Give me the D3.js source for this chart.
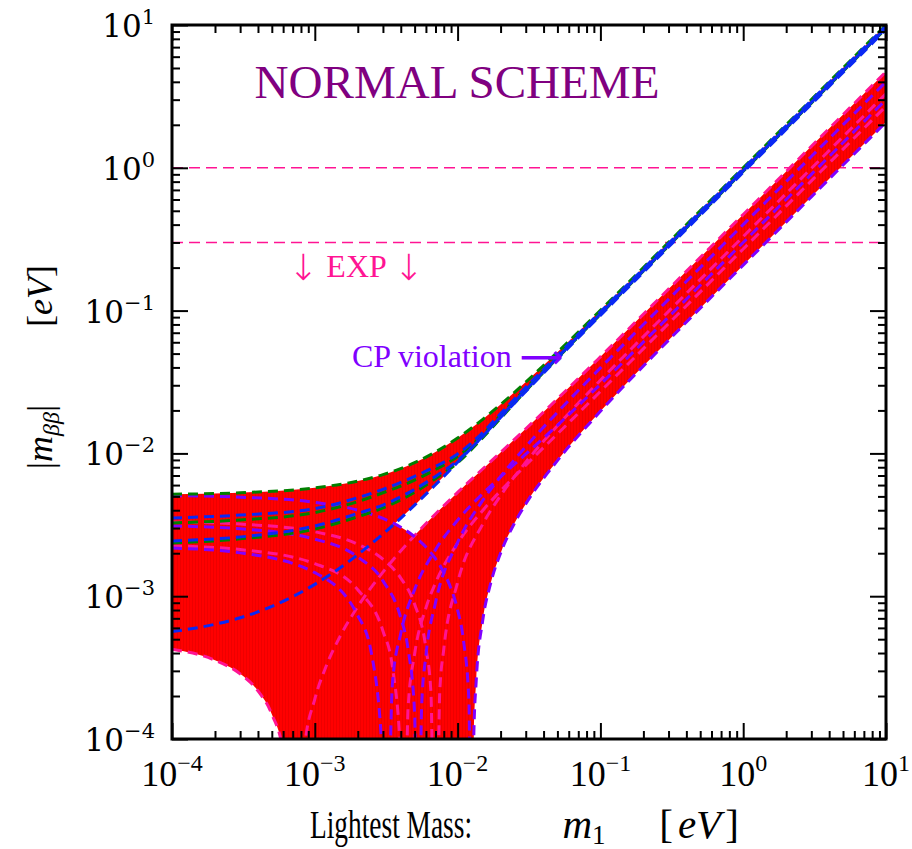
<!DOCTYPE html>
<html>
<head>
<meta charset="utf-8">
<script src="https://cdn.jsdelivr.net/npm/d3@7"></script>
<style>
  body { margin: 0; background: #fff; }
  svg { display: block; }
</style>
</head>
<body>
<svg id="chart" width="912" height="849"></svg>
<script>
// ---------- axis ticks ----------
const xMajor = [1e-4, 1e-3, 1e-2, 1e-1, 1, 10];
const xExp   = ["\u22124", "\u22123", "\u22122", "\u22121", "0", "1"];
const yMajor = [1e-4, 1e-3, 1e-2, 1e-1, 1, 10];
const yExp   = ["\u22124", "\u22123", "\u22122", "\u22121", "0", "1"];

// experimental bounds on |m_bb| (horizontal dashed lines)
const expBounds = [1.0, 0.3];

// ---------- curves: [m1, |m_bb|] in eV ----------
// upper family (green / blue), converging to |m_bb| ~ m1
const green1 = [[1e-4,5.18e-3],[3e-4,5.30e-3],[1e-3,5.74e-3],[2e-3,6.40e-3],[3e-3,7.10e-3],[5e-3,8.61e-3],[7e-3,1.023e-2],[1e-2,1.28e-2],[1.5e-2,1.732e-2],[2e-2,2.20e-2],[3e-2,3.157e-2],[5e-2,5.11e-2],[0.1,0.1006],[0.3,0.3002],[1,1.0],[3,3.0],[10,10]];
const green2 = [[1e-4,3.26e-3],[3e-4,3.42e-3],[1e-3,3.85e-3],[2e-3,4.6e-3],[3e-3,5.3e-3],[5e-3,6.5e-3],[7e-3,7.7e-3],[1e-2,9.5e-3],[1.5e-2,1.35e-2],[2e-2,1.85e-2],[3e-2,2.85e-2],[5e-2,4.8e-2],[0.1,0.097],[0.3,0.292],[1,0.975],[3,2.93],[10,9.75]];
const green3 = [[1e-4,2.36e-3],[3e-4,2.52e-3],[1e-3,2.95e-3],[2e-3,3.6e-3],[3e-3,4.15e-3],[5e-3,5.35e-3],[7e-3,6.65e-3],[1e-2,8.6e-3],[1.5e-2,1.29e-2],[2e-2,1.76e-2],[3e-2,2.74e-2],[5e-2,4.65e-2],[0.1,0.094],[0.3,0.284],[1,0.945],[3,2.84],[10,9.45]];
const blue1  = [[1e-4,3.53e-3],[3e-4,3.7e-3],[1e-3,4.1e-3],[2e-3,4.9e-3],[3e-3,5.6e-3],[5e-3,6.9e-3],[7e-3,8.1e-3],[1e-2,9.9e-3],[1.5e-2,1.4e-2],[2e-2,1.9e-2],[3e-2,2.9e-2],[5e-2,4.85e-2],[0.1,0.098],[0.3,0.295],[1,0.985],[3,2.96],[10,9.85]];
const blue2  = [[1e-4,2.44e-3],[3e-4,2.6e-3],[1e-3,3.1e-3],[2e-3,3.8e-3],[3e-3,4.35e-3],[5e-3,5.6e-3],[7e-3,6.9e-3],[1e-2,8.9e-3],[1.5e-2,1.32e-2],[2e-2,1.8e-2],[3e-2,2.78e-2],[5e-2,4.7e-2],[0.1,0.095],[0.3,0.287],[1,0.955],[3,2.87],[10,9.55]];
const blue3  = [[1e-4,5.65e-4],[2e-4,6.36e-4],[3e-4,7.06e-4],[5e-4,8.49e-4],[7e-4,9.93e-4],[1e-3,1.21e-3],[2e-3,1.954e-3],[3e-3,2.726e-3],[5e-3,4.341e-3],[7e-3,6.034e-3],[1e-2,8.67e-3],[2e-2,1.784e-2],[5e-2,4.59e-2],[0.1,0.0926],[0.3,0.2786],[1,0.929],[3,2.787],[10,9.29]];

// lower family (purple / pink): each curve falls to zero and rises again
const purpleA_left  = [[1e-4,5.058e-3],[3e-4,4.939e-3],[1e-3,4.538e-3],[2e-3,4.002e-3],[3e-3,3.503e-3],[4e-3,3.04e-3],[5e-3,2.61e-3],[6e-3,2.207e-3],[7e-3,1.83e-3],[8e-3,1.469e-3],[9e-3,1.128e-3],[1e-2,8.03e-4],[1.1e-2,4.88e-4],[1.2e-2,1.85e-4],[1.26e-2,0]];
const purpleA_right = [[1.26e-2,0],[1.3e-2,1.1e-4],[1.35e-2,2.54e-4],[1.5e-2,6.77e-4],[1.7e-2,1.22e-3],[2e-2,2.002e-3],[2.5e-2,3.239e-3],[3e-2,4.428e-3],[5e-2,8.902e-3],[0.1,0.0197],[0.3,0.062],[1,0.208],[3,0.626],[10,2.09]];
const purpleB_left  = [[1e-4,3.1e-3],[3e-4,2.966e-3],[1e-3,2.509e-3],[2e-3,1.882e-3],[3e-3,1.281e-3],[4e-3,7.05e-4],[4.5e-3,4.26e-4],[5e-3,1.51e-4],[5.28e-3,0]];
const purpleB_right = [[5.28e-3,0],[5.6e-3,1.72e-4],[6e-3,3.85e-4],[7e-3,9.0e-4],[1e-2,2.378e-3],[1.5e-2,4.683e-3],[2e-2,6.882e-3],[3e-2,1.1135e-2],[5e-2,1.9406e-2],[0.1,0.03968],[0.3,0.1199],[1,0.4],[3,1.2],[10,4.0]];
const purpleC_left  = [[1e-4,2.174e-3],[3e-4,2.011e-3],[1e-3,1.462e-3],[2e-3,7.32e-4],[2.5e-3,3.91e-4],[3e-3,6.4e-5],[3.1e-3,0]];
const purpleC_right = [[3.1e-3,0],[3.5e-3,2.49e-4],[4e-3,5.49e-4],[5e-3,1.113e-3],[7e-3,2.116e-3],[1e-2,3.407e-3],[1.5e-2,5.226e-3],[2e-2,6.848e-3],[3e-2,9.871e-3],[5e-2,1.5726e-2],[0.1,0.03044],[0.3,0.0902],[1,0.3],[3,0.9],[10,3.0]];
const pinkA_left    = [[1e-4,3.309e-3],[3e-4,3.2e-3],[1e-3,2.827e-3],[2e-3,2.311e-3],[3e-3,1.816e-3],[4e-3,1.339e-3],[5e-3,8.79e-4],[6e-3,4.32e-4],[6.5e-3,2.14e-4],[7e-3,0]];
const pinkA_right   = [[7e-3,0],[7.5e-3,2.15e-4],[8e-3,4.25e-4],[1e-2,1.246e-3],[1.5e-2,3.197e-3],[2e-2,5.063e-3],[3e-2,8.665e-3],[5e-2,1.5624e-2],[0.1,0.03251],[0.3,0.0988],[1,0.33],[3,0.99],[10,3.3]];
const pinkB_left    = [[1e-4,2.25e-3],[3e-4,2.122e-3],[1e-3,1.689e-3],[2e-3,1.109e-3],[3e-3,5.71e-4],[3.5e-3,3.17e-4],[4e-3,7.1e-5],[4.15e-3,0]];
const pinkB_right   = [[4.15e-3,0],[4.5e-3,1.65e-4],[5e-3,3.94e-4],[6e-3,8.29e-4],[7e-3,1.238e-3],[1e-2,2.355e-3],[1.5e-2,3.983e-3],[2e-2,5.468e-3],[3e-2,8.269e-3],[5e-2,1.3687e-2],[0.1,0.02713],[0.3,0.0811],[1,0.27],[3,0.81],[10,2.7]];
const pinkC_left    = [[1e-4,4.25e-4],[2e-4,3.56e-4],[3e-4,2.86e-4],[4e-4,2.17e-4],[5e-4,1.49e-4],[6e-4,8.05e-5],[7.2e-4,0]];
const pinkC_right   = [[7.2e-4,0],[8.5e-4,8.9e-5],[1e-3,1.9e-4],[1.2e-3,3.23e-4],[1.5e-3,5.21e-4],[2e-3,8.46e-4],[3e-3,1.474e-3],[5e-3,2.659e-3],[7e-3,3.766e-3],[1e-2,5.33e-3],[2e-2,1.0165e-2],[5e-2,2.41e-2],[0.1,0.04743],[0.3,0.1414],[1,0.471],[3,1.413],[10,4.71]];

// ---------- colours ----------
const RED = "#ff0000", PINK = "#ff1493", PURPLE = "#8000ff", GREEN = "#008000", BLUE = "#0a28f5", TITLE = "#800080";

// ---------- layout ----------
const W = 912, H = 849;
const plot = { left: 172, top: 25, right: 886, bottom: 739 };
const FLOOR = 1e-7;   // zero values are drawn at this level (off the bottom of the log axis)

const svg = d3.select("#chart");
const x = d3.scaleLog().domain([1e-4, 10]).range([plot.left, plot.right]);
const y = d3.scaleLog().domain([1e-4, 10]).range([plot.bottom, plot.top]);

const yv = v => y(Math.max(v, FLOOR));
const line = d3.line().x(d => x(d[0])).y(d => yv(d[1])).curve(d3.curveMonotoneX);
const below = d3.area().x(d => x(d[0])).y0(H + 400).y1(d => yv(d[1])).curve(d3.curveMonotoneX);

const defs = svg.append("defs");
defs.append("clipPath").attr("id", "plotClip")
  .append("rect").attr("x", plot.left).attr("y", plot.top)
  .attr("width", plot.right - plot.left).attr("height", plot.bottom - plot.top);

// hatched red fill (dense vertical strokes)
const pat = defs.append("pattern").attr("id", "redFill").attr("patternUnits", "userSpaceOnUse")
  .attr("width", 3).attr("height", 8);
pat.append("rect").attr("width", 3).attr("height", 8).attr("fill", RED);
pat.append("rect").attr("width", 1).attr("height", 8).attr("fill", "#ee0000");

// masks cutting away everything below a lower boundary curve
function makeMask(id, lower) {
  const m = defs.append("mask").attr("id", id).attr("maskUnits", "userSpaceOnUse")
    .attr("x", -100).attr("y", -100).attr("width", W + 200).attr("height", H + 800);
  m.append("rect").attr("x", -100).attr("y", -100).attr("width", W + 200).attr("height", H + 800).attr("fill", "white");
  m.append("path").attr("d", below(lower)).attr("fill", "black");
}
makeMask("cutBlue3", blue3);
makeMask("cutPinkC", pinkC_left);
makeMask("cutPurpleA", purpleA_right);

const g = svg.append("g").attr("clip-path", "url(#plotClip)");

// experimental bounds
g.selectAll("line.exp").data(expBounds).join("line").attr("class", "exp")
  .attr("x1", plot.left).attr("x2", plot.right)
  .attr("y1", d => y(d)).attr("y2", d => y(d))
  .attr("stroke", PINK).attr("stroke-width", 1.6).attr("stroke-dasharray", "11,6");

// allowed regions
g.append("path").attr("d", below(green1)).attr("fill", "url(#redFill)").attr("mask", "url(#cutBlue3)");
g.append("path").attr("d", below(purpleA_left)).attr("fill", "url(#redFill)").attr("mask", "url(#cutPinkC)");
g.append("path").attr("d", below(pinkC_right)).attr("fill", "url(#redFill)").attr("mask", "url(#cutPurpleA)");

// dashed curves
const curves = [
  { d: pinkC_left, c: PINK }, { d: pinkC_right, c: PINK },
  { d: pinkB_left, c: PINK }, { d: pinkB_right, c: PINK },
  { d: pinkA_left, c: PINK }, { d: pinkA_right, c: PINK },
  { d: purpleC_left, c: PURPLE }, { d: purpleC_right, c: PURPLE },
  { d: purpleB_left, c: PURPLE }, { d: purpleB_right, c: PURPLE },
  { d: purpleA_left, c: PURPLE }, { d: purpleA_right, c: PURPLE },
  { d: green3, c: GREEN }, { d: green2, c: GREEN }, { d: green1, c: GREEN },
  { d: blue3, c: BLUE }, { d: blue2, c: BLUE }, { d: blue1, c: BLUE }
];
g.selectAll("path.curve").data(curves).join("path").attr("class", "curve")
  .attr("d", d => line(d.d)).attr("fill", "none")
  .attr("stroke", d => d.c).attr("stroke-width", 3).attr("stroke-dasharray", "10,6");

// ---------- axes (inward ticks on all four sides) ----------
const xMinor = x.ticks().filter(v => !xMajor.some(m => Math.abs(m - v) / m < 1e-9));
const yMinor = y.ticks().filter(v => !yMajor.some(m => Math.abs(m - v) / m < 1e-9));

function styleAxis(sel) {
  sel.select(".domain").remove();
  sel.selectAll(".tick line").attr("stroke", "#000").attr("stroke-width", 2);
  sel.selectAll(".tick text").remove();
}
const axes = [
  [d3.axisBottom(x), `translate(0,${plot.bottom})`, xMajor, xMinor],
  [d3.axisTop(x),    `translate(0,${plot.top})`,    xMajor, xMinor],
  [d3.axisLeft(y),   `translate(${plot.left},0)`,   yMajor, yMinor],
  [d3.axisRight(y),  `translate(${plot.right},0)`,  yMajor, yMinor]
];
axes.forEach(([ax, tr, major, minor]) => {
  svg.append("g").attr("transform", tr).call(ax.tickValues(major).tickSize(-16).tickFormat("")).call(styleAxis);
  svg.append("g").attr("transform", tr).call(ax.tickValues(minor).tickSize(-8).tickFormat("")).call(styleAxis);
});

svg.append("rect").attr("x", plot.left).attr("y", plot.top)
  .attr("width", plot.right - plot.left).attr("height", plot.bottom - plot.top)
  .attr("fill", "none").attr("stroke", "#000").attr("stroke-width", 3);

// tick labels
const xl = svg.append("g").selectAll("text").data(xMajor).join("text")
  .attr("x", d => x(d)).attr("y", plot.bottom + 47)
  .attr("text-anchor", "middle").attr("font-family", "Liberation Serif, serif").attr("font-size", 36);
xl.append("tspan").text("10");
xl.append("tspan").attr("dy", -15).attr("font-size", 24).text((d, i) => xExp[i]);

const yl = svg.append("g").selectAll("text").data(yMajor).join("text")
  .attr("x", plot.left - 17).attr("y", d => y(d) + 12)
  .attr("text-anchor", "end").attr("font-family", "DejaVu Serif, serif").attr("font-size", 31);
yl.append("tspan").text("10");
yl.append("tspan").attr("dy", -13).attr("font-size", 21).text((d, i) => yExp[i]);

// ---------- titles and annotations ----------
svg.append("text").attr("x", 457).attr("y", 98).attr("text-anchor", "middle")
  .attr("font-family", "Liberation Serif, serif").attr("font-size", 47).attr("fill", TITLE)
  .attr("textLength", 405).attr("lengthAdjust", "spacingAndGlyphs")
  .text("NORMAL SCHEME");

const exp = svg.append("text").attr("x", 356).attr("y", 277).attr("text-anchor", "middle")
  .attr("font-family", "Liberation Serif, serif").attr("font-size", 32).attr("fill", PINK);
exp.append("tspan").attr("font-family", "DejaVu Sans").attr("font-weight", 200).attr("font-size", 36).attr("dy", 3).text("\u2193");
exp.append("tspan").attr("dy", -3).text(" EXP ");
exp.append("tspan").attr("font-family", "DejaVu Sans").attr("font-weight", 200).attr("font-size", 36).attr("dy", 3).text("\u2193");

const cp = svg.append("text").attr("x", 352).attr("y", 367)
  .attr("font-family", "Liberation Serif, serif").attr("font-size", 32).attr("fill", PURPLE);
cp.append("tspan").text("CP violation ");
cp.append("tspan").attr("font-family", "DejaVu Sans").attr("font-weight", "bold").attr("font-size", 30).text("\u27F6");

// x-axis title
const xt = svg.append("g").attr("font-family", "Liberation Serif, serif").attr("font-size", 41).attr("fill", "#000");
xt.append("text").attr("x", 391).attr("y", 838).attr("text-anchor", "middle")
  .attr("textLength", 162).attr("lengthAdjust", "spacingAndGlyphs").text("Lightest Mass:");
const xm = xt.append("text").attr("x", 584).attr("y", 838).attr("text-anchor", "middle");
xm.append("tspan").attr("font-style", "italic").text("m");
xm.append("tspan").attr("font-size", 27).attr("dy", 6).text("1");
const xe = xt.append("text").attr("x", 699).attr("y", 838).attr("text-anchor", "middle");
xe.append("tspan").text("[");
xe.append("tspan").attr("dx", 5).attr("font-style", "italic").text("eV");
xe.append("tspan").attr("dx", 4).text("]");

// y-axis title (rotated)
const yt = svg.append("g").attr("font-family", "Liberation Serif, serif").attr("font-size", 36).attr("fill", "#000");
const ym = yt.append("text").attr("transform", "translate(52,437) rotate(-90)").attr("text-anchor", "middle");
ym.append("tspan").text("|");
ym.append("tspan").attr("font-style", "italic").text("m");
ym.append("tspan").attr("font-style", "italic").attr("font-size", 24).attr("dy", 7).text("\u03B2\u03B2");
ym.append("tspan").attr("dy", -7).text("|");
const ye = yt.append("text").attr("transform", "translate(52,296) rotate(-90)").attr("text-anchor", "middle");
ye.append("tspan").text("[");
ye.append("tspan").attr("font-style", "italic").text("eV");
ye.append("tspan").text("]");
</script>
</body>
</html>
